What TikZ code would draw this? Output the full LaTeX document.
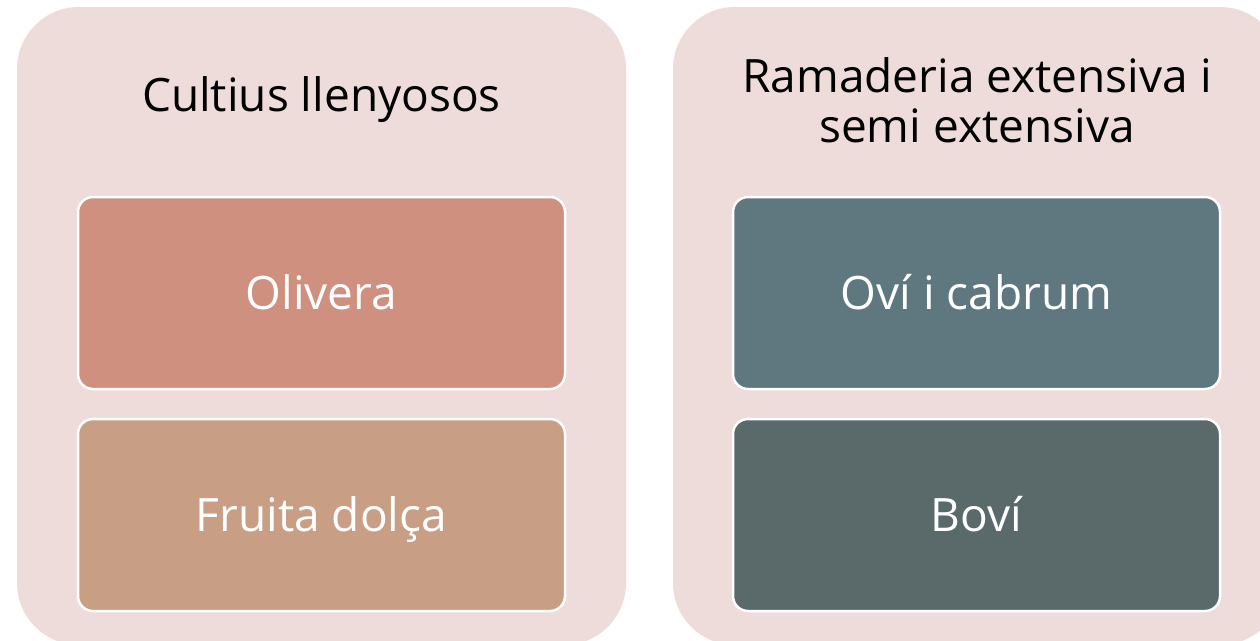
\documentclass[tikz,border=0pt]{standalone}
\usepackage{fontspec}
\setmainfont{Open Sans}
\usetikzlibrary{positioning}

\definecolor{panelbg}{HTML}{EDDCDA}
\definecolor{olivecol}{HTML}{D0907F}
\definecolor{fruitcol}{HTML}{C89F85}
\definecolor{ovicol}{HTML}{5F7880}
\definecolor{bovicol}{HTML}{5A6969}

\begin{document}
\begin{tikzpicture}[
    x=1pt, y=-1pt,
    node distance=27.5pt,
    panel/.style={rectangle, fill=panelbg, rounded corners=62pt, minimum width=609pt, minimum height=638pt, inner sep=0pt},
    heading/.style={align=center, text=black, font=\fontsize{46}{50}\selectfont},
    item/.style={rectangle, draw=white, line width=2.5pt, rounded corners=15pt, minimum width=487pt, minimum height=192pt, text height=36pt, text depth=4pt, align=center, text=white, font=\fontsize{46}{50}\selectfont}
]
\useasboundingbox (0,0) rectangle (1260,640);
\clip (0,0) rectangle (1260,640);

% Background panels
\node[panel] (crops) at (321.5,326) {};
\node[panel] (cattle) at (977.5,326) {};

% Headings
\node[heading] (cropstitle) at (321.5,100) {Cultius llenyosos};
\node[heading] (cattletitle) at (977,100) {Ramaderia extensiva i\\semi extensiva};

% Items
\node[item, fill=olivecol] (olivera) at (321.5,293) {Olivera};
\node[item, fill=fruitcol, below=of olivera] (fruita) {Fruita dolça};
\node[item, fill=ovicol] (ovi) at (976.5,293) {Oví i cabrum};
\node[item, fill=bovicol, below=of ovi] (bovi) {Boví};

\end{tikzpicture}
\end{document}
